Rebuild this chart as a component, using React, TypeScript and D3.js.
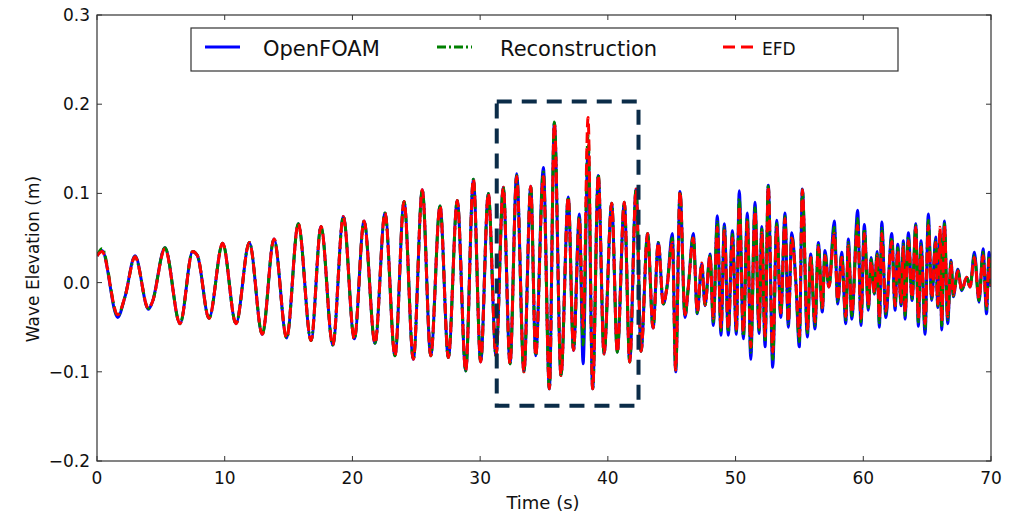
import React from 'react'
import * as d3 from 'd3'

// time of each turning point (s)
const times = [
  0, 0.39, 1.62, 2.19, 2.98, 4.02, 4.33, 5.32, 6.5, 7.49, 7.87, 8.77, 9.84, 10.88,
  11.93, 12.94, 13.86, 14.85, 15.76, 16.76, 17.54, 18.46, 19.29, 20.15, 20.91, 21.77,
  22.55, 23.33, 24.04, 24.77, 25.47, 26.13, 26.86, 27.51, 28.21, 28.87, 29.47, 30.04,
  30.64, 31.24, 31.81, 32.34, 32.86, 33.43, 33.96, 34.35, 34.95, 35.42, 35.81, 36.33,
  36.9, 37.31, 37.77, 38.06, 38.45, 38.81, 39.25, 39.7, 40.3, 40.74, 41.29, 41.71,
  42.21, 42.6, 43.11, 43.54, 43.95,
  44.34, 44.63, 45.05, 45.31, 45.65, 46.04, 46.3, 46.69, 47.0, 47.35, 47.61, 48.0,
  48.26, 48.57, 48.86, 49.12, 49.43, 49.75, 50.06, 50.29, 50.61, 50.92, 51.19, 51.52,
  51.84, 52.05, 52.31, 52.56, 52.91, 53.22, 53.54, 53.87, 54.13, 54.4, 54.73, 54.99,
  55.23, 55.62, 55.88, 56.22, 56.48, 56.79, 57.0, 57.31, 57.73, 58.0, 58.31, 58.63,
  58.83, 59.1, 59.56, 59.82, 60.08, 60.4, 60.61, 60.87, 61.08, 61.26, 61.45, 61.76,
  62.23, 62.49, 62.7, 62.96, 63.14, 63.27, 63.53, 63.82, 64.11, 64.31, 64.52, 64.84,
  65.09, 65.36, 65.67, 65.83, 66.01, 66.14, 66.35, 66.61, 66.87, 67.05, 67.4, 67.71,
  68.1, 68.36, 68.7, 69.06, 69.38, 69.65, 69.85, 70.0
]

const openFoam = [
  0.030, 0.036, -0.039, -0.016, 0.030, -0.030, -0.022, 0.039, -0.046, 0.035, 0.030, -0.040, 0.044, -0.046,
  0.045, -0.058, 0.049, -0.062, 0.066, -0.065, 0.063, -0.070, 0.074, -0.063, 0.069, -0.068,
  0.078, -0.082, 0.091, -0.086, 0.104, -0.082, 0.086, -0.084, 0.092, -0.099, 0.116, -0.089,
  0.100, -0.082, 0.107, -0.091, 0.122, -0.100, 0.108, -0.082, 0.129, -0.119, 0.179, -0.104,
  0.096, -0.076, 0.077, -0.091, 0.150, -0.119, 0.120, -0.080, 0.089, -0.078, 0.090, -0.089,
  0.105, -0.077, 0.055, -0.051, 0.045,
  -0.024, -0.005, 0.055, -0.100, 0.102, -0.039, -0.005, 0.055, -0.035, 0.021, -0.026, 0.032,
  -0.048, 0.075, -0.059, 0.066, -0.059, 0.058, -0.058, 0.103, -0.063, 0.078, -0.086, 0.090,
  -0.057, 0.063, -0.072, 0.109, -0.095, 0.070, -0.039, 0.078, -0.050, 0.056, -0.002, -0.072,
  0.105, -0.061, 0.032, -0.052, 0.045, -0.033, 0.036, -0.005, 0.069, -0.024, 0.034, -0.046,
  0.049, -0.041, 0.081, -0.048, 0.065, -0.031, 0.028, -0.013, 0.035, -0.050, 0.068, -0.039,
  0.055, -0.031, 0.043, -0.026, 0.047, -0.041, 0.056, -0.020, 0.066, -0.049, 0.047, -0.058,
  0.077, -0.020, 0.051, -0.028, 0.055, -0.053, 0.069, -0.046, 0.025, -0.016, 0.015, -0.009,
  0.006, -0.005, 0.034, -0.022, 0.038, -0.035, 0.034, -0.005
]

const reconstruction = [
  0.030, 0.038, -0.037, -0.016, 0.029, -0.029, -0.022, 0.039, -0.046, 0.035, 0.030, -0.040, 0.044, -0.046,
  0.045, -0.058, 0.049, -0.062, 0.066, -0.065, 0.063, -0.070, 0.074, -0.063, 0.069, -0.068,
  0.078, -0.082, 0.091, -0.086, 0.104, -0.082, 0.086, -0.084, 0.092, -0.099, 0.116, -0.089,
  0.100, -0.082, 0.107, -0.091, 0.120, -0.100, 0.108, -0.082, 0.124, -0.119, 0.180, -0.104,
  0.096, -0.076, 0.074, -0.070, 0.165, -0.119, 0.121, -0.080, 0.089, -0.078, 0.090, -0.089,
  0.105, -0.077, 0.055, -0.051, 0.045,
  -0.024, -0.005, 0.050, -0.098, 0.102, -0.037, -0.005, 0.052, -0.034, 0.020, -0.025, 0.030,
  -0.044, 0.068, -0.054, 0.062, -0.055, 0.054, -0.054, 0.094, -0.060, 0.072, -0.078, 0.084,
  -0.053, 0.060, -0.066, 0.108, -0.086, 0.066, -0.036, 0.074, -0.046, 0.052, -0.002, -0.066,
  0.104, -0.056, 0.030, -0.048, 0.042, -0.030, 0.033, -0.005, 0.062, -0.022, 0.031, -0.042,
  0.045, -0.037, 0.072, -0.044, 0.060, -0.028, 0.026, -0.012, 0.032, -0.045, 0.061, -0.035,
  0.050, -0.028, 0.039, -0.024, 0.043, -0.037, 0.051, -0.018, 0.064, -0.044, 0.043, -0.052,
  0.070, -0.018, 0.048, -0.026, 0.058, -0.048, 0.066, -0.042, 0.023, -0.015, 0.014, -0.008,
  0.006, -0.005, 0.031, -0.020, 0.034, -0.030, 0.030, -0.004
]

const efd = [
  0.030, 0.035, -0.036, -0.016, 0.029, -0.029, -0.022, 0.038, -0.046, 0.035, 0.030, -0.040, 0.044, -0.046,
  0.045, -0.058, 0.049, -0.062, 0.066, -0.065, 0.063, -0.070, 0.074, -0.063, 0.069, -0.068,
  0.078, -0.082, 0.091, -0.086, 0.104, -0.082, 0.086, -0.084, 0.092, -0.099, 0.116, -0.089,
  0.100, -0.082, 0.107, -0.091, 0.119, -0.100, 0.108, -0.082, 0.119, -0.119, 0.178, -0.104,
  0.096, -0.076, 0.072, -0.050, 0.185, -0.119, 0.120, -0.080, 0.089, -0.078, 0.090, -0.089,
  0.105, -0.077, 0.055, -0.051, 0.045,
  -0.024, -0.005, 0.045, -0.098, 0.102, -0.036, -0.005, 0.050, -0.033, 0.022, -0.025, 0.030,
  -0.040, 0.062, -0.050, 0.058, -0.052, 0.050, -0.052, 0.086, -0.055, 0.068, -0.072, 0.080,
  -0.050, 0.056, -0.060, 0.108, -0.078, 0.062, -0.034, 0.072, -0.044, 0.050, -0.002, -0.060,
  0.104, -0.052, 0.028, -0.044, 0.040, -0.028, 0.030, -0.005, 0.055, -0.020, 0.028, -0.038,
  0.041, -0.034, 0.064, -0.040, 0.055, -0.026, 0.024, -0.011, 0.030, -0.040, 0.055, -0.032,
  0.046, -0.026, 0.036, -0.022, 0.040, -0.034, 0.047, -0.017, 0.062, -0.040, 0.040, -0.046,
  0.064, -0.017, 0.045, -0.024, 0.062, -0.044, 0.064, -0.038, 0.022, -0.014, 0.013, -0.008,
  0.006, -0.005, 0.028, -0.018, 0.030, -0.026, 0.026, -0.004
]

const xTicks = [0, 10, 20, 30, 40, 50, 60, 70]
const yTicks = [-0.2, -0.1, 0, 0.1, 0.2, 0.3]
const legendLabels = ['OpenFOAM', 'Reconstruction', 'EFD']
const boxTimes = [31.3, 42.4]
const boxElevations = [-0.138, 0.203]

const left = 97
const right = 991
const top = 15
const bottom = 461
const font = '"DejaVu Sans", sans-serif'

function formatY(v: number) {
  const s = Math.abs(v).toFixed(1)
  return v < -1e-9 ? '\u2212' + s : s
}

export default function App() {
  const x = d3.scaleLinear().domain([0, 70]).range([left, right])
  const y = d3.scaleLinear().domain([-0.2, 0.3]).range([bottom, top])

  const makeLine = (values: number[]) =>
    d3.line<number>()
      .x((_, i) => x(times[i]))
      .y(v => y(v))
      .curve(d3.curveMonotoneX)(values) || ''

  const series = [
    { name: legendLabels[0], values: openFoam, color: '#0000ff', dash: undefined as string | undefined },
    { name: legendLabels[1], values: reconstruction, color: '#008000', dash: '9,3,2,3' },
    { name: legendLabels[2], values: efd, color: '#ff0000', dash: '11,5' }
  ]

  const legendX = [205, 437, 723]
  const legendTextX = [263, 500, 762]
  const legendFont = [21, 21, 17]

  return (
    <div style={{ position: 'absolute', left: 0, top: 0 }}>
      <svg width={1025} height={516} viewBox="0 0 1025 516" style={{ display: 'block', background: '#fff' }}>
        <defs>
          <clipPath id="plot-clip">
            <rect x={left} y={top} width={right - left} height={bottom - top} />
          </clipPath>
        </defs>

        <g clipPath="url(#plot-clip)">
          {series.map(s => (
            <path key={s.name} d={makeLine(s.values)} fill="none" stroke={s.color} strokeWidth={3}
              strokeDasharray={s.dash} strokeLinejoin="round" />
          ))}
        </g>

        <rect x={x(boxTimes[0])} y={y(boxElevations[1])}
          width={x(boxTimes[1]) - x(boxTimes[0])} height={y(boxElevations[0]) - y(boxElevations[1])}
          fill="none" stroke="#0b2c48" strokeWidth={4} strokeDasharray="15,10" />

        {/* frame and ticks */}
        <rect x={left} y={top} width={right - left} height={bottom - top} fill="none" stroke="#333" strokeWidth={1.2} />
        {xTicks.map(t => (
          <g key={`x${t}`}>
            <line x1={x(t)} x2={x(t)} y1={bottom} y2={bottom - 5} stroke="#333" />
            <line x1={x(t)} x2={x(t)} y1={top} y2={top + 5} stroke="#333" />
            <text x={x(t)} y={484} textAnchor="middle" fontFamily={font} fontSize={17} fill="#111">{t}</text>
          </g>
        ))}
        {yTicks.map(v => (
          <g key={`y${v}`}>
            <line x1={left} x2={left + 5} y1={y(v)} y2={y(v)} stroke="#333" />
            <line x1={right} x2={right - 5} y1={y(v)} y2={y(v)} stroke="#333" />
            <text x={left - 7} y={y(v) + 6} textAnchor="end" fontFamily={font} fontSize={17} fill="#111">{formatY(v)}</text>
          </g>
        ))}

        <text x={543} y={509} textAnchor="middle" fontFamily={font} fontSize={18} fill="#111">Time (s)</text>
        <text transform="translate(39,259) rotate(-90)" textAnchor="middle" fontFamily={font} fontSize={17} fill="#111">
          Wave Elevation (m)
        </text>

        {/* legend */}
        <rect x={191} y={28} width={707} height={43} fill="#fff" stroke="#333" strokeWidth={1.2} />
        {series.map((s, i) => (
          <g key={`lg${s.name}`}>
            <line x1={legendX[i]} x2={legendX[i] + 35} y1={47} y2={47} stroke={s.color} strokeWidth={3}
              strokeDasharray={i === 2 ? '12,6' : i === 1 ? '9,3,2,3' : undefined} />
            <text x={legendTextX[i]} y={i === 2 ? 55 : 56} fontFamily={font} fontSize={legendFont[i]} fill="#111">{s.name}</text>
          </g>
        ))}
      </svg>
    </div>
  )
}
